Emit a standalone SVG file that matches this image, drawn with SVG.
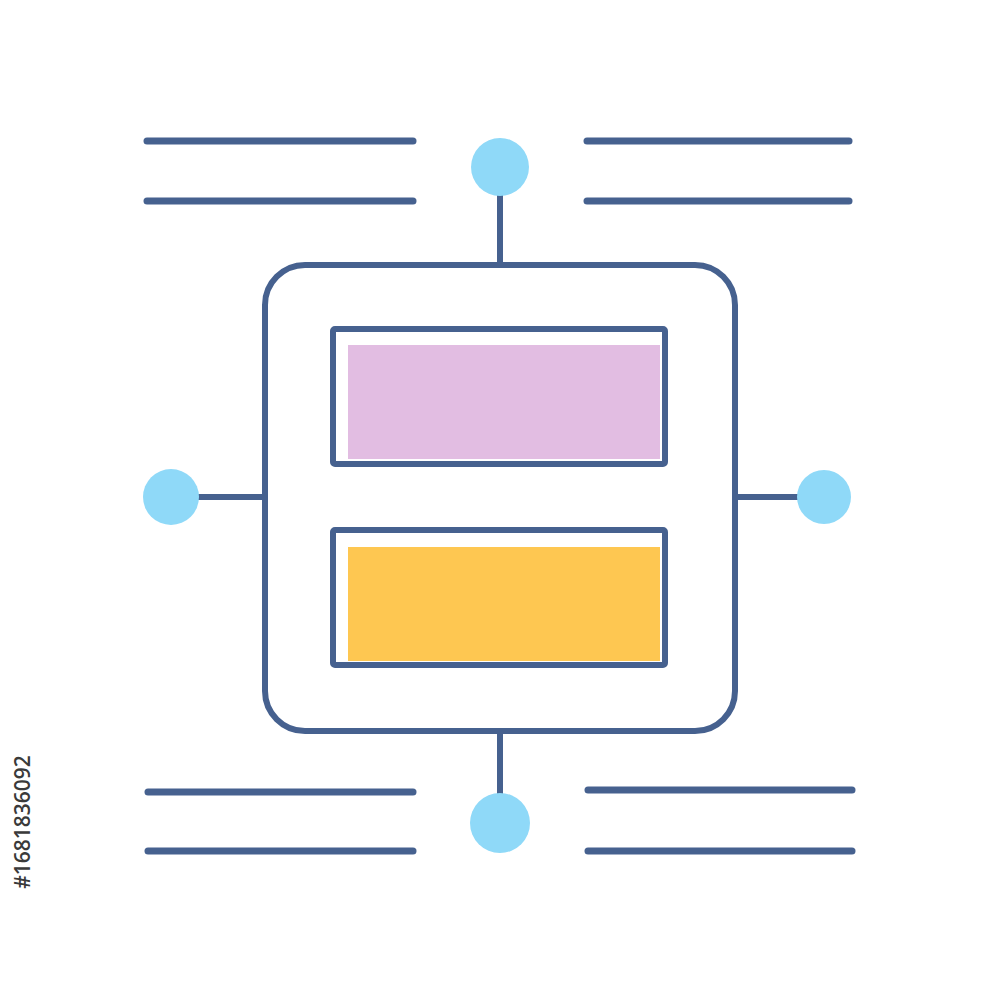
<svg xmlns="http://www.w3.org/2000/svg" width="1000" height="1000" viewBox="0 0 1000 1000">
<style>
.ln{stroke:#46618f;stroke-width:7;stroke-linecap:round;fill:none}
.st{stroke:#46618f;stroke-width:6;fill:none;stroke-linejoin:round}
.dot{fill:#8fd9f8}
</style>
<rect width="1000" height="1000" fill="#ffffff"/>
<g id="text-lines">
<line class="ln" x1="147" y1="141" x2="413" y2="141"/>
<line class="ln" x1="147" y1="201" x2="413" y2="201"/>
<line class="ln" x1="587" y1="141" x2="849" y2="141"/>
<line class="ln" x1="587" y1="201" x2="849" y2="201"/>
<line class="ln" x1="148" y1="792" x2="413" y2="792"/>
<line class="ln" x1="148" y1="851" x2="413" y2="851"/>
<line class="ln" x1="588" y1="790" x2="852" y2="790"/>
<line class="ln" x1="588" y1="851" x2="852" y2="851"/>
</g>
<g id="connectors">
<line class="st" x1="500" y1="194" x2="500" y2="265"/>
<line class="st" x1="198" y1="497" x2="265" y2="497"/>
<line class="st" x1="735" y1="497" x2="798" y2="497"/>
<line class="st" x1="500" y1="731" x2="500" y2="795"/>
</g>
<g id="frame">
<rect class="st" x="265" y="265" width="470" height="466" rx="40"/>
</g>
<g id="panel-top">
<rect x="348" y="345" width="312" height="114" fill="#e2bde2"/>
<rect class="st" x="333" y="329" width="332" height="135" rx="2"/>
</g>
<g id="panel-bottom">
<rect x="348" y="547" width="312" height="114" fill="#fec751"/>
<rect class="st" x="333" y="530" width="332" height="135" rx="2"/>
</g>
<g id="node-top"><circle class="dot" cx="500" cy="167" r="29"/></g>
<g id="node-left"><circle class="dot" cx="171" cy="497" r="28"/></g>
<g id="node-right"><circle class="dot" cx="824" cy="497" r="27"/></g>
<g id="node-bottom"><circle class="dot" cx="500" cy="823" r="30"/></g>
<text x="22" y="822" transform="rotate(-90 22 822)" text-anchor="middle" dominant-baseline="central" font-family="'Open Sans','Liberation Sans',sans-serif" font-size="21" font-weight="600" fill="#3a3a3a">#1681836092</text>
</svg>
